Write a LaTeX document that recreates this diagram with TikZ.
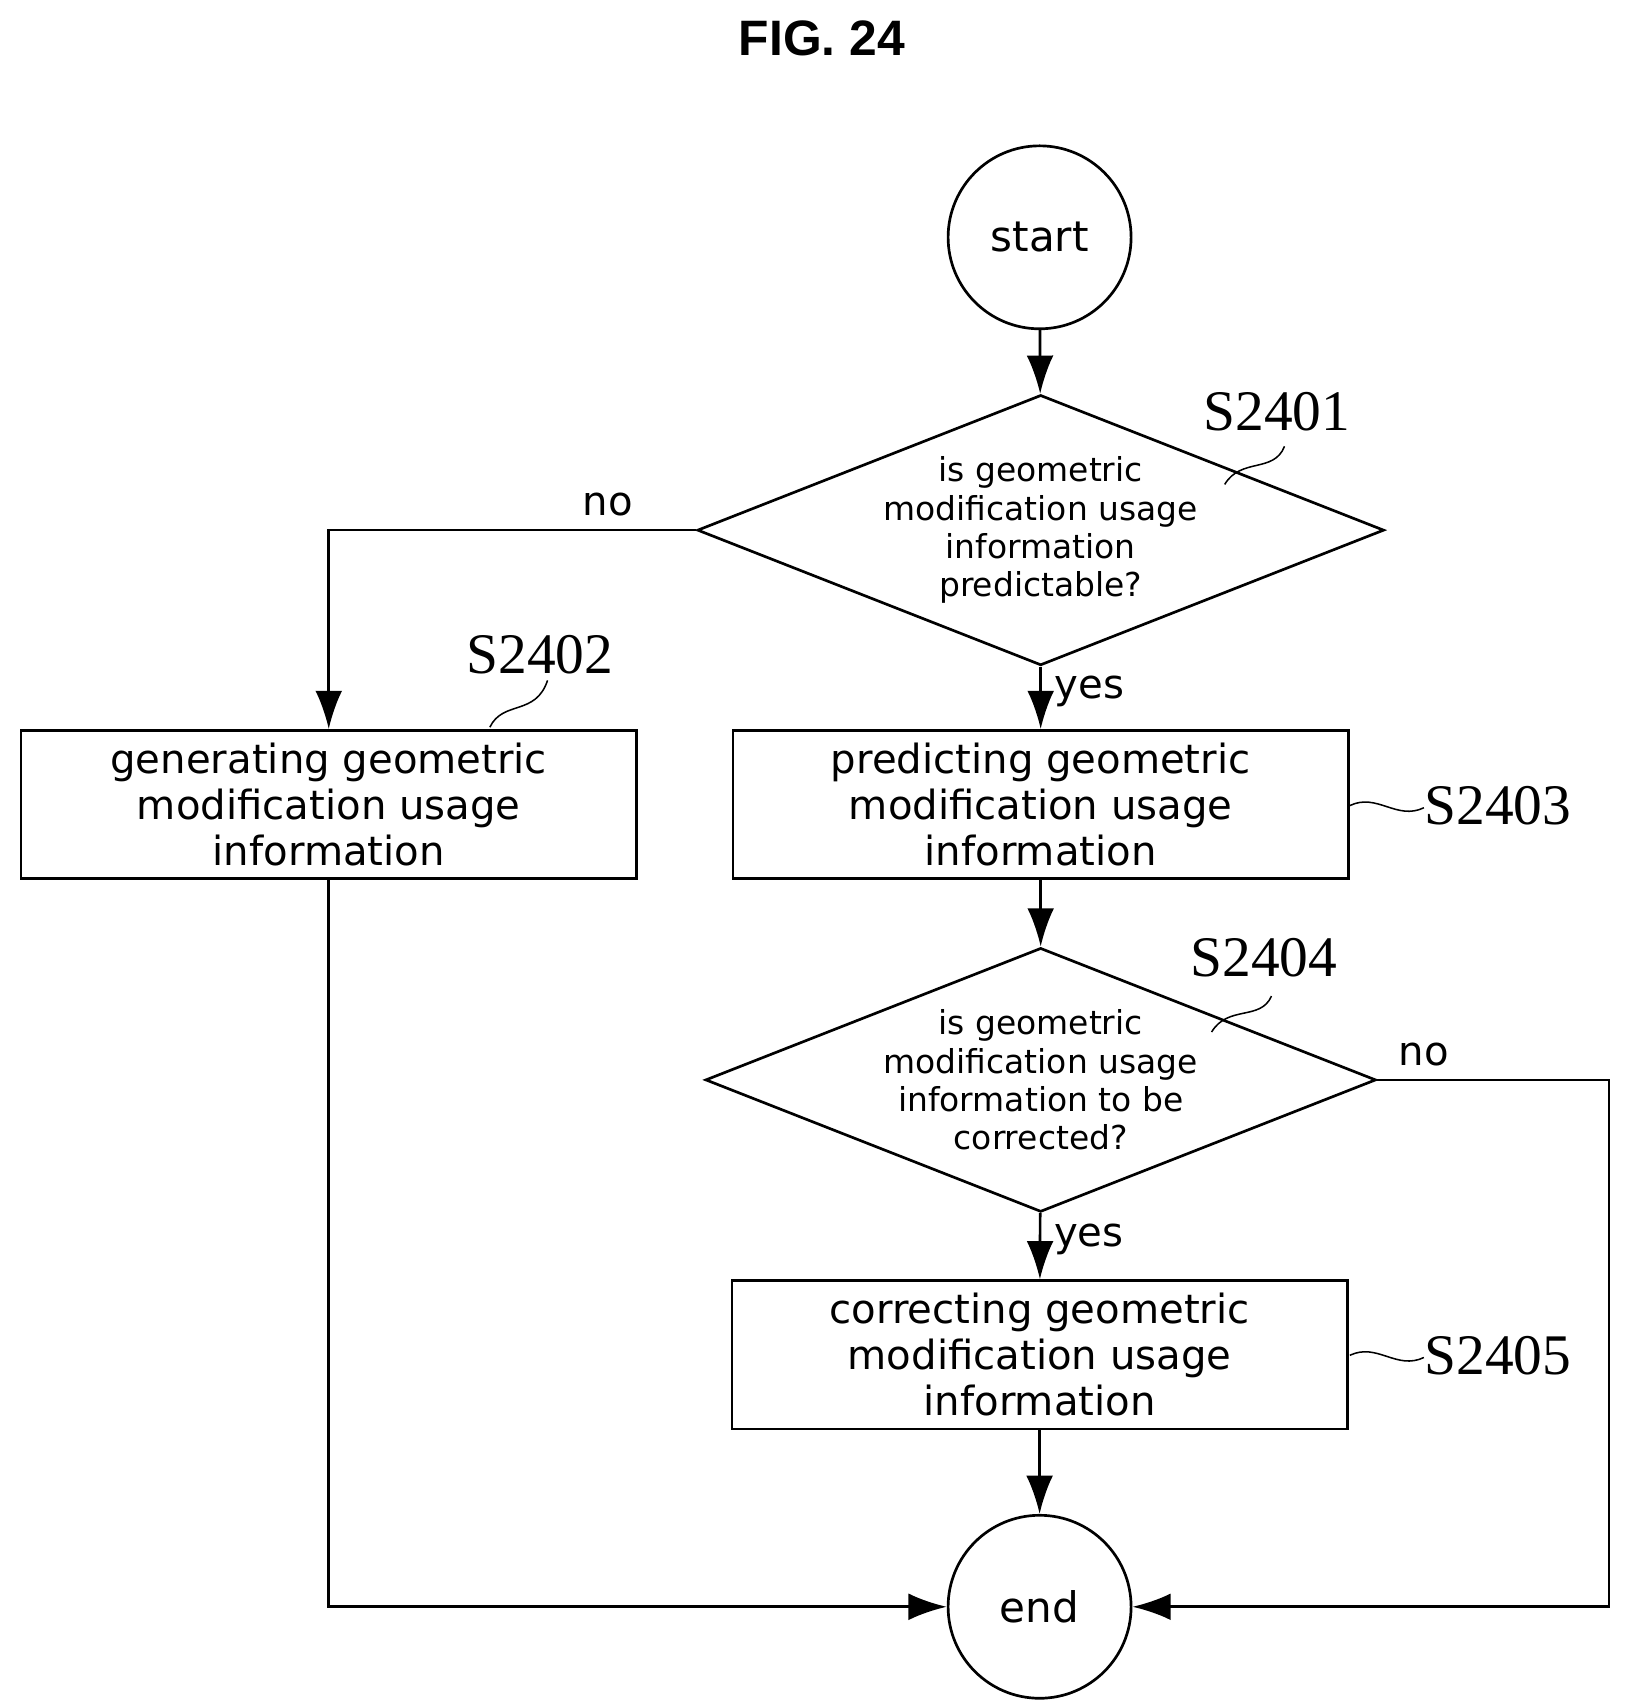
\documentclass[tikz,border=0pt]{standalone}
\usepackage{fontspec}
\setmainfont{DejaVu Sans}
\newfontfamily\labfont{Liberation Serif}
\newfontfamily\titfont{Liberation Sans}
\usetikzlibrary{shapes.geometric,arrows.meta}
\tikzset{
  flow/.style={-{Latex[length=10pt,width=7pt]}, line width=0.7pt},
  term/.style={circle, draw, line width=0.7pt, minimum size=1.68cm, inner sep=0pt, font=\fontsize{11}{13}\selectfont},
  procbox/.style={rectangle, draw, line width=0.7pt, minimum width=5.65cm, minimum height=1.36cm, align=center, inner sep=0pt, font=\fontsize{10.5}{12}\selectfont},
  ask/.style={diamond, draw, line width=0.7pt, minimum width=5.29cm, minimum height=2.08cm, aspect=2.54, inner sep=0pt, align=center, font=\fontsize{8.6}{10}\selectfont},
  tag/.style={font=\labfont\fontsize{15}{17}\selectfont},
  ans/.style={font=\fontsize{10.5}{12}\selectfont}
}
\begin{document}
\begin{tikzpicture}[x=0.01cm,y=-0.01cm]
  \useasboundingbox (0,0) rectangle (1498,1569);
  \node[font=\titfont\bfseries\fontsize{13}{15}\selectfont] (title) at (755,35) {FIG. 24};
  % nodes
  \node[term] (start) at (955,218) {start};
  \node[ask] (d1) at (956,487) {is geometric\\modification usage\\information\\predictable?};
  \node[procbox] (b2) at (302,739) {generating geometric\\modification usage\\information};
  \node[procbox] (b3) at (956,739) {predicting geometric\\modification usage\\information};
  \node[ask] (d2) at (956,992) {is geometric\\modification usage\\information to be\\corrected?};
  \node[procbox] (b5) at (955,1244.5) {correcting geometric\\modification usage\\information};
  \node[term] (end) at (955,1476) {end};
  \coordinate (rc) at (1478,1200);
  % connectors
  \draw[flow] (start) -- (d1);
  \draw[flow] (d1) -- node[ans, right, pos=0.4] {yes} (b3);
  \draw[flow] (d1.west) -| node[ans, above, pos=0.12] {no} (b2.north);
  \draw[flow] (b3) -- (d2);
  \draw[flow] (d2) -- node[ans, right, pos=0.4] {yes} (b5);
  \draw[flow] (b5) -- (end);
  \draw[flow] (b2.south) |- (end);
  \draw[flow] (d2.east) -| node[ans, above, pos=0.1] {no} (rc) |- (end);
  % step labels
  \node[tag] (t1) at (1173,378) {S2401};
  \node[tag] (t2) at (496,601) {S2402};
  \node[tag] (t3) at (1376,740) {S2403};
  \node[tag] (t4) at (1161,880) {S2404};
  \node[tag] (t5) at (1376,1245) {S2405};
  \draw (1125,445) .. controls (1140,420) and (1170,435) .. (1180,410);
  \draw (450,668) .. controls (462,643) and (492,658) .. (503,625);
  \draw (1240,740) .. controls (1265,728) and (1283,754) .. (1308,742);
  \draw (1113,948) .. controls (1128,923) and (1158,938) .. (1168,915);
  \draw (1240,1245) .. controls (1265,1233) and (1283,1259) .. (1308,1247);
\end{tikzpicture}
\end{document}
